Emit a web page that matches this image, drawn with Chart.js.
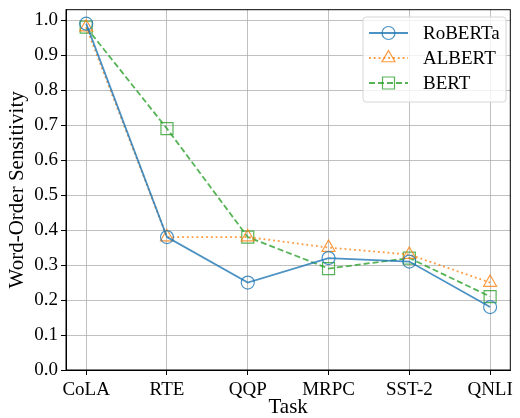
<!DOCTYPE html>
<html>
<head>
<meta charset="utf-8">
<script src="https://cdn.jsdelivr.net/npm/chart.js@4/dist/chart.umd.min.js"></script>
<style>
  html, body { margin: 0; padding: 0; background: #fff; }
  #wrap { width: 520px; height: 418px; }
</style>
</head>
<body>
<div id="wrap"><canvas id="chart"></canvas></div>
<script>
// tasks on the x axis
const tasks = ['CoLA', 'RTE', 'QQP', 'MRPC', 'SST-2', 'QNLI'];
const yTicks = [0, 0.1, 0.2, 0.3, 0.4, 0.5, 0.6, 0.7, 0.8, 0.9, 1.0];

// word-order sensitivity per model
const roberta = [0.99, 0.38, 0.25, 0.32, 0.31, 0.18];
const albert  = [0.98, 0.38, 0.38, 0.35, 0.33, 0.25];
const bert    = [0.98, 0.69, 0.38, 0.29, 0.32, 0.21];

const FONT = "'Liberation Serif', 'DejaVu Serif', serif";

function pts(arr) {
    return arr.map((v, i) => ({ x: i, y: v }));
}

function series(label, values, color, dash, style, radius) {
    return {
        label: label,
        data: pts(values),
        borderColor: color,
        backgroundColor: 'rgba(0,0,0,0)',
        borderWidth: 1.8,
        borderDash: dash,
        pointStyle: style,
        pointRadius: radius,
        pointHoverRadius: radius,
        pointBorderWidth: 1.2,
        pointBorderColor: color,
        pointBackgroundColor: 'rgba(0,0,0,0)',
        tension: 0
    };
}

// frame around the plot + legend box in the top right corner
const framePlugin = {
    id: 'frame',
    afterDraw(chart) {
        const ctx = chart.ctx;
        const a = chart.chartArea;
        ctx.save();
        ctx.strokeStyle = '#000';
        ctx.lineWidth = 1;
        ctx.strokeRect(a.left, a.top, a.right - a.left, a.bottom - a.top);

        // legend
        const bx = 363, by = 17, bw = 143, bh = 85;
        ctx.fillStyle = 'rgba(255,255,255,0.8)';
        ctx.strokeStyle = '#d6d6d6';
        ctx.lineWidth = 1;
        ctx.beginPath();
        ctx.roundRect(bx, by, bw, bh, 3);
        ctx.fill();
        ctx.stroke();

        chart.data.datasets.forEach((ds, i) => {
            const y = 33 + i * 25;
            ctx.strokeStyle = ds.borderColor;
            ctx.lineWidth = ds.borderWidth;
            ctx.setLineDash(ds.borderDash || []);
            ctx.beginPath();
            ctx.moveTo(369, y);
            ctx.lineTo(408, y);
            ctx.stroke();
            ctx.setLineDash([]);
            ctx.fillStyle = 'rgba(0,0,0,0)';
            ctx.lineWidth = ds.pointBorderWidth;
            Chart.helpers.drawPoint(ctx, {
                pointStyle: ds.pointStyle,
                radius: ds.pointRadius,
                borderWidth: ds.pointBorderWidth,
                rotation: 0
            }, 388.5, y);
            ctx.fillStyle = '#000';
            ctx.font = '19px ' + FONT;
            ctx.textBaseline = 'middle';
            ctx.textAlign = 'left';
            ctx.fillText(ds.label, 423, y + 1);
        });
        ctx.restore();
    }
};

const ctx = document.getElementById('chart').getContext('2d');
const chart = new Chart(ctx, {
    type: 'line',
    data: {
        datasets: [
            series('RoBERTa', roberta, 'rgba(31,119,180,0.8)', [], 'circle', 6.5),
            series('ALBERT', albert, 'rgba(255,127,14,0.8)', [1.8, 3], 'triangle', 7.5),
            series('BERT', bert, 'rgba(44,160,44,0.8)', [6, 3], 'rect', 8.5)
        ]
    },
    options: {
        responsive: true,
        maintainAspectRatio: false,
        animation: false,
        layout: { padding: { top: 7, right: 6, left: 0, bottom: 0 } },
        plugins: {
            legend: { display: false },
            tooltip: { enabled: false }
        },
        scales: {
            x: {
                type: 'linear',
                min: -0.25,
                max: 5.25,
                afterBuildTicks: axis => {
                    axis.ticks = tasks.map((t, i) => ({ value: i }));
                },
                afterFit: axis => {
                    axis.height = 48;
                    axis.paddingLeft = 0;
                    axis.paddingRight = 0;
                },
                ticks: {
                    callback: v => tasks[v],
                    color: '#000',
                    font: { family: FONT, size: 19 },
                    padding: 4,
                    maxRotation: 0,
                    autoSkip: false
                },
                grid: {
                    color: '#b0b0b0',
                    lineWidth: 0.8,
                    tickColor: '#000',
                    tickLength: 5,
                    tickWidth: 1
                },
                border: { color: '#000', width: 1 },
                title: {
                    display: true,
                    text: 'Task',
                    color: '#000',
                    font: { family: FONT, size: 21, lineHeight: 1 },
                    padding: { top: 0, bottom: 0 }
                }
            },
            y: {
                min: 0,
                max: 1.03,
                afterBuildTicks: axis => {
                    axis.ticks = yTicks.map(v => ({ value: v }));
                },
                afterFit: axis => {
                    axis.width = 66;
                    axis.paddingTop = 0;
                    axis.paddingBottom = 0;
                },
                ticks: {
                    callback: v => v.toFixed(1),
                    color: '#000',
                    font: { family: FONT, size: 19 },
                    padding: 3
                },
                grid: {
                    color: '#b0b0b0',
                    lineWidth: 0.8,
                    tickColor: '#000',
                    tickLength: 5,
                    tickWidth: 1
                },
                border: { color: '#000', width: 1 },
                title: {
                    display: true,
                    text: 'Word-Order Sensitivity',
                    color: '#000',
                    font: { family: FONT, size: 21 },
                    padding: { top: 5, bottom: 0 }
                }
            }
        }
    },
    plugins: [framePlugin]
});
</script>
</body>
</html>
